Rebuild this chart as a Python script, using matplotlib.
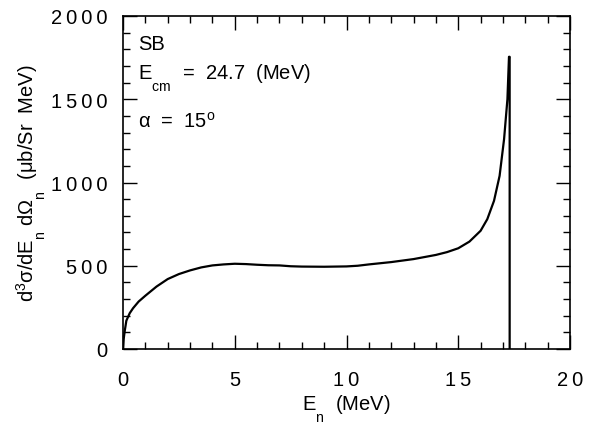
import matplotlib
matplotlib.use("Agg")
import matplotlib.pyplot as plt
from matplotlib.ticker import MultipleLocator, FuncFormatter
import matplotlib._mathtext as mt

plt.rcParams['font.family'] = ['Liberation Sans', 'DejaVu Sans']
plt.rcParams['mathtext.fontset'] = 'custom'
plt.rcParams['mathtext.rm'] = 'Liberation Sans'
plt.rcParams['mathtext.it'] = 'Liberation Sans'
plt.rcParams['mathtext.default'] = 'regular'
# deeper subscripts, as in the original figure
mt.FontConstantsBase.sub1 = 1.1

# Data
energy = [0.0, 0.03, 0.08, 0.15, 0.3, 0.45, 0.7, 1.0, 1.5, 2.0, 2.5, 3.0, 3.5, 4.0,
          4.5, 5.0, 5.5, 6.0, 6.5, 7.0, 7.5, 8.0, 9.0, 10.0, 10.5, 11.0, 12.0, 13.0,
          14.0, 14.5, 15.0, 15.5, 16.0, 16.3, 16.6, 16.85, 17.05, 17.2, 17.27, 17.3, 17.3]
xsec = [0, 60, 110, 170, 215, 245, 285, 320, 375, 420, 450, 472, 490, 502,
        508, 512, 510, 506, 503, 502, 497, 495, 494, 496, 500, 508, 522, 540,
        565, 582, 605, 645, 710, 780, 890, 1040, 1260, 1500, 1755, 1755, 0]

x_ticks = [0, 5, 10, 15, 20]
y_ticks = [0, 500, 1000, 1500, 2000]

FS = 14.5

fig = plt.figure(figsize=(5.92, 4.27), dpi=100)
ax = fig.add_axes([123/592, 1-350/427, (570-123)/592, (350-17)/427])

ax.plot(energy, xsec, color='black', lw=1.6, solid_joinstyle='round')

ax.set_xlim(0, 20)
ax.set_ylim(0, 2000)
ax.set_xticks(x_ticks)
ax.set_yticks(y_ticks)
ax.xaxis.set_minor_locator(MultipleLocator(1))
ax.yaxis.set_minor_locator(MultipleLocator(100))

sp = '\u2009'
fmt = FuncFormatter(lambda v, p: sp.join(str(int(v))))
ax.xaxis.set_major_formatter(fmt)
ax.yaxis.set_major_formatter(fmt)

ax.tick_params(which='both', direction='in', top=True, right=True, width=1.0,
               labelsize=FS)
ax.tick_params(which='major', length=10)
ax.tick_params(which='minor', length=5)
ax.tick_params(axis='x', which='major', pad=15)
ax.tick_params(axis='y', which='major', pad=11)
for s in ax.spines.values():
    s.set_linewidth(1.2)

ax.set_xlabel('E$_{n}$  (MeV)', fontsize=FS, labelpad=3)
ax.set_ylabel('d$^{3}$σ/dE$_{n}$ dΩ$_{n}$  (μb/Sr  MeV)', fontsize=FS, labelpad=2)

ax.text(0.034, 0.901, 'SB', transform=ax.transAxes, fontsize=FS)
ax.text(0.034, 0.811, 'E$_{cm}$  =  24.7  (MeV)', transform=ax.transAxes, fontsize=FS)
ax.text(0.034, 0.667, 'α  =  15$^{o}$', transform=ax.transAxes, fontsize=FS)

fig.savefig('out.png', dpi=100)
